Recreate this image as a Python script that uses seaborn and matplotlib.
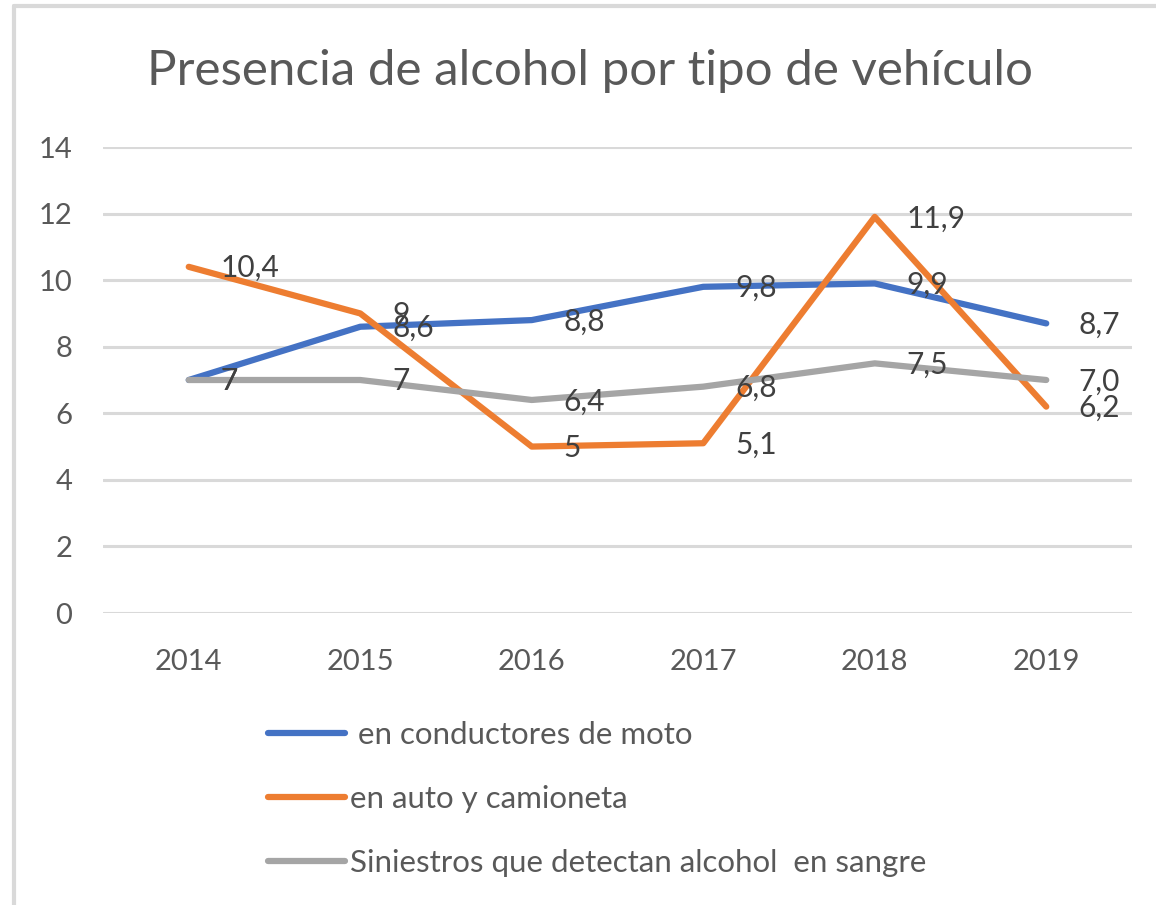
import matplotlib
matplotlib.use("Agg")
import matplotlib.pyplot as plt
from matplotlib.lines import Line2D
import seaborn as sns
import pandas as pd

years = [2014, 2015, 2016, 2017, 2018, 2019]
series_names = [" en conductores de moto", "en auto y camioneta", "Siniestros que detectan alcohol  en sangre"]
moto = [7, 8.6, 8.8, 9.8, 9.9, 8.7]
auto = [10.4, 9, 5, 5.1, 11.9, 6.2]
sangre = [7, 7, 6.4, 6.8, 7.5, 7.0]
moto_labels = ["7", "8,6", "8,8", "9,8", "9,9", "8,7"]
auto_labels = ["10,4", "9", "5", "5,1", "11,9", "6,2"]
sangre_labels = ["7", "7", "6,4", "6,8", "7,5", "7,0"]
yticks = [0, 2, 4, 6, 8, 10, 12, 14]
title = "Presencia de alcohol por tipo de vehículo"

colors = ["#4472C4", "#ED7D31", "#A5A5A5"]

df = pd.DataFrame({
    "year": years * 3,
    "value": moto + auto + sangre,
    "serie": [series_names[0]] * 6 + [series_names[1]] * 6 + [series_names[2]] * 6,
})

sns.set_theme(style="white")
plt.rcParams["font.family"] = ["Lato", "DejaVu Sans"]

W, H = 1156, 905
fig = plt.figure(figsize=(W / 100, H / 100), dpi=100)
ax = fig.add_axes([103 / W, 1 - 613 / H, 1029 / W, 466 / H])

sns.lineplot(data=df, x="year", y="value", hue="serie", palette=colors,
             linewidth=4.5, ax=ax, legend=False, sort=False)

ax.set_xlim(2013.5, 2019.5)
ax.set_ylim(0, 14)
ax.set_yticks(yticks)
ax.set_xticks(years)
ax.set_xticklabels([str(y) for y in years])
ax.set_xlabel("")
ax.set_ylabel("")
ax.grid(axis="y", color="#D9D9D9", linewidth=2.2)
ax.set_axisbelow(True)
for s in ax.spines.values():
    s.set_visible(False)
ax.tick_params(axis="both", length=0, labelsize=21, labelcolor="#595959")
ax.tick_params(axis="y", pad=22)
ax.tick_params(axis="x", pad=26)

lab_color = "#404040"
for vals, labs in [(moto, moto_labels), (auto, auto_labels), (sangre, sangre_labels)]:
    for x, v, t in zip(years, vals, labs):
        ax.annotate(t, (x, v), xytext=(23, -1), textcoords="offset points",
                    ha="left", va="center", fontsize=21.5, color=lab_color)

fig.text(590 / W, 1 - 85 / H, title, ha="center", va="baseline",
         fontsize=35.5, color="#595959")

handles = [Line2D([0], [0], color=c, linewidth=4.5) for c in colors]
fig.legend(handles, series_names, loc="upper left",
           bbox_to_anchor=(268 / W, 1 - 721 / H), frameon=False,
           fontsize=22.5, handlelength=2.46, handletextpad=0.16,
           labelspacing=1.15, borderpad=0, borderaxespad=0,
           labelcolor="#595959")

border = "#D9D9D9"
fig.add_artist(Line2D([14 / W, 1], [1 - 6 / H, 1 - 6 / H], color=border, linewidth=3,
                      transform=fig.transFigure))
fig.add_artist(Line2D([14 / W, 14 / W], [0, 1 - 6 / H], color=border, linewidth=3,
                      transform=fig.transFigure))

fig.savefig("out.png", dpi=100)
